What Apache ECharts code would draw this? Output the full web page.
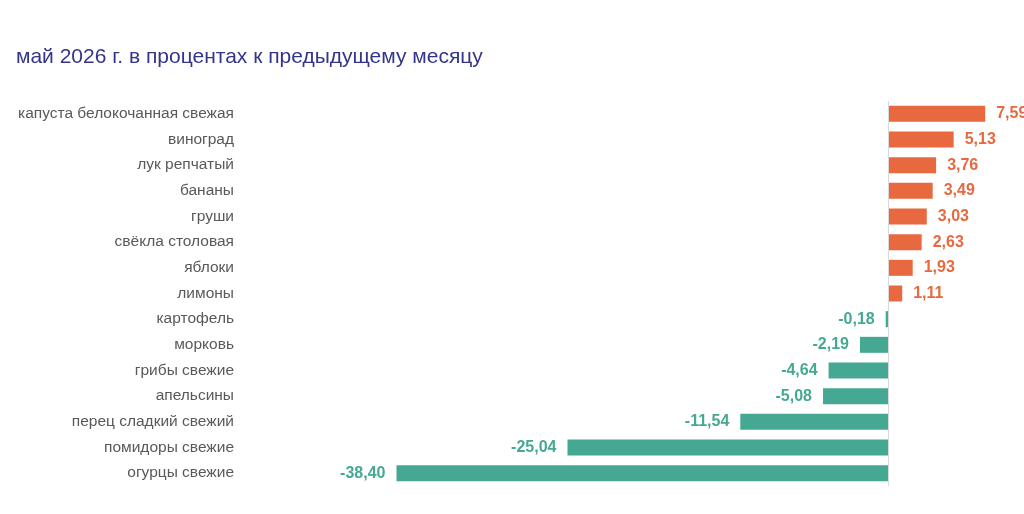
<!DOCTYPE html>
<html>
<head>
<meta charset="utf-8">
<style>
  html, body { margin: 0; padding: 0; background: #fff; }
  #chart { width: 1024px; height: 514px; }
</style>
<script src="https://cdn.jsdelivr.net/npm/echarts@6/dist/echarts.min.js"></script>
</head>
<body>
<div id="chart"></div>
<script>
// категории сверху вниз
var categories = [
  'капуста белокочанная свежая', 'виноград', 'лук репчатый', 'бананы', 'груши',
  'свёкла столовая', 'яблоки', 'лимоны', 'картофель', 'морковь',
  'грибы свежие', 'апельсины', 'перец сладкий свежий', 'помидоры свежие', 'огурцы свежие'
];
var values = [7.59, 5.13, 3.76, 3.49, 3.03, 2.63, 1.93, 1.11, -0.18, -2.19, -4.64, -5.08, -11.54, -25.04, -38.40];

var posColor = '#E8683F';
var negColor = '#45A893';

var barData = values.map(function (v) {
  var c = v >= 0 ? posColor : negColor;
  return {
    value: v,
    itemStyle: { color: c },
    label: { position: v >= 0 ? 'right' : 'left', color: c }
  };
});

var chart = echarts.init(document.getElementById('chart'));
chart.setOption({
  animation: false,
  title: {
    text: 'май 2026 г. в процентах к предыдущему месяцу',
    left: 11,
    top: 42,
    textStyle: { fontFamily: 'Liberation Sans', fontSize: 21, fontWeight: 'normal', color: '#34358A' }
  },
  grid: { left: 376, right: 8, top: 101, bottom: 28 },
  xAxis: {
    type: 'value',
    min: -40,
    max: 10,
    show: false
  },
  yAxis: {
    type: 'category',
    data: categories,
    inverse: true,
    axisLine: { show: false },
    axisTick: { show: false },
    axisLabel: { margin: 142, fontFamily: 'Liberation Sans', fontSize: 15.5, color: '#595959' }
  },
  series: [{
    type: 'bar',
    data: barData,
    barWidth: 16,
    label: {
      show: true,
      distance: 11,
      fontFamily: 'Liberation Sans',
      fontSize: 16,
      fontWeight: 'bold',
      formatter: function (p) { return p.value.toFixed(2).replace('.', ','); }
    },
    markLine: {
      silent: true,
      symbol: 'none',
      label: { show: false },
      lineStyle: { color: '#D9D9D9', width: 1, type: 'solid' },
      data: [{ xAxis: 0 }]
    }
  }]
});
</script>
</body>
</html>
